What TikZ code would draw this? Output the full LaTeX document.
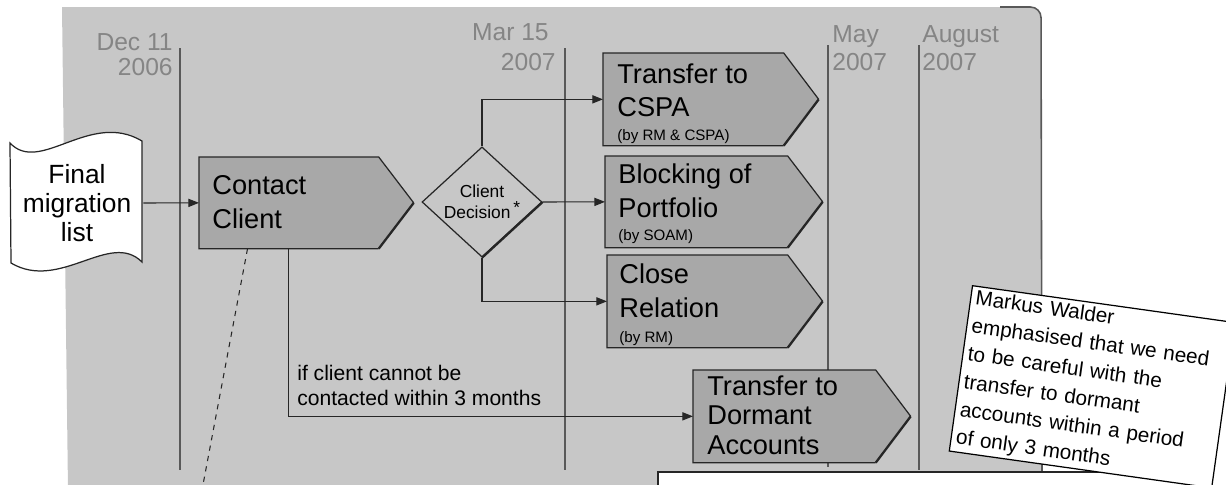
\documentclass[tikz,border=0pt]{standalone}
\usepackage{fontspec}
\setmainfont{Liberation Sans}
\usetikzlibrary{arrows.meta,shapes.geometric,calc}
\definecolor{bggray}{gray}{0.78}
\definecolor{boxgray}{gray}{0.66}
\definecolor{dategray}{gray}{0.52}
\definecolor{linegray}{gray}{0.35}
\tikzset{
  boxline/.style={draw=black!85, line width=0.7pt},
  bigtext/.style={font=\fontsize{15.5}{19.3}\selectfont, align=left, inner sep=0pt, anchor=north west},
  smalltext/.style={font=\fontsize{8.6}{10}\selectfont, inner sep=0pt, anchor=base west},
  datetext/.style={font=\fontsize{14}{16}\selectfont, text=dategray, inner sep=0pt},
  timeline/.style={draw=linegray, line width=0.8pt},
  conn/.style={draw=black!85, line width=0.6pt, -{Triangle[length=6pt,width=4.6pt]}},
  notebox/.style={draw=black, fill=white, line width=0.7pt, font=\fontsize{11.8}{16}\selectfont,
    text width=5.1cm, inner xsep=0.1cm, inner ysep=0.04cm, minimum height=3.34cm, align=left},
}
\newcommand{\procbox}[5]{% name, x, y, w, h
  \node[rectangle, inner sep=0pt, minimum width=#4*0.02cm, minimum height=#5*0.02cm, anchor=north west] (#1) at (#2,#3) {};
  \fill[boxgray] (#1.north west) -- (#1.north east) -- ($(#1.east)+(35,0)$) -- (#1.south east) -- (#1.south west) -- cycle;
  \draw[boxline] (#1.south east) -- (#1.south west) -- (#1.north west) -- (#1.north east) -- ($(#1.east)+(35,0)$);
  \draw[boxline, line width=1.3pt] ($(#1.east)+(35,0)$) -- (#1.south east);
}
\begin{document}
\begin{tikzpicture}[x=0.02cm,y=-0.02cm]
\useasboundingbox (0,0) rectangle (1226,484);
\clip (0,0) rectangle (1226,484);
% background panel
\fill[bggray] (68,490) -- (62,7) [rounded corners=6pt] -- (1041,7) [sharp corners] -- (1042,490) -- cycle;
\draw[linegray, line width=0.9pt] (1000,7) [rounded corners=6pt] -- (1041,7) [sharp corners] -- (1042,490);
% timelines
\draw[timeline] (180,48) -- (180,470);
\draw[timeline] (565,48) -- (565,470);
\draw[timeline] (828,45) -- (828,467);
\draw[timeline] (919,45) -- (919,470);
% dates
\node[datetext, anchor=base east] (d1a) at (173,50) {Dec 11};
\node[datetext, anchor=base east] (d1b) at (173,75) {2006};
\node[datetext, anchor=base east] (d2a) at (549,40) {Mar 15};
\node[datetext, anchor=base east] (d2b) at (556,70) {2007};
\node[datetext, anchor=base west] (d3a) at (832,42) {May};
\node[datetext, anchor=base west] (d3b) at (832,70) {2007};
\node[datetext, anchor=base west] (d4a) at (922,42) {August};
\node[datetext, anchor=base west] (d4b) at (922,70) {2007};
% final migration list (tape)
\filldraw[fill=white, draw=black!85, line width=0.7pt]
  (10,143) .. controls (40,175) and (90,110) .. (142,141) -- (142,262)
  .. controls (110,230) and (60,292) .. (11,263) -- cycle;
\node[inner sep=0pt, minimum width=2.64cm, minimum height=2.4cm, align=center,
  font=\fontsize{15}{16.6}\selectfont] (final) at (77,203) {Final\\migration\\list};
% process boxes
\procbox{contact}{199}{157}{179}{91}
\node[bigtext] (contactt) at (212,175) {Contact\\Client};
\procbox{cspa}{603}{53}{180}{92}
\node[bigtext] (cspat) at (617,63) {Transfer to\\CSPA};
\node[smalltext] (cspab) at (617,140) {(by RM \& CSPA)};
\procbox{block}{605}{156}{182}{91}
\node[bigtext] (blockt) at (618,163) {Blocking of\\Portfolio};
\node[smalltext] (blockb) at (618,240) {(by SOAM)};
\procbox{close}{607}{255}{180}{92}
\node[bigtext] (closet) at (619,263) {Close\\Relation};
\node[smalltext] (closeb) at (619,342) {(by RM)};
\procbox{dormant}{693}{370}{182}{92}
\node[bigtext, font=\fontsize{15.5}{17}\selectfont] (dormantt) at (707,375) {Transfer to\\Dormant\\Accounts};
% decision
\node[diamond, draw=black!85, line width=0.7pt, minimum width=2.4cm, minimum height=2.08cm, inner sep=0pt,
  align=center, font=\fontsize{9.9}{12}\selectfont] (dec) at (482,202) {Client\\Decision\,\raisebox{3pt}{*}};
\draw[black!85, line width=1.3pt] (dec.east) -- (dec.south);
% connectors
\draw[conn] (final.east) -- (contact.west);
\draw[conn] (dec.north) |- (cspa.west);
\draw[conn] (dec.east) -- (block.west);
\draw[conn] (dec.south) |- (close.west);
\draw[conn] (contact.south) |- (dormant.west);
\node[font=\fontsize{12}{14.2}\selectfont, align=left, inner sep=0pt, anchor=north west] (lbl) at (297,365)
  {if client cannot be\\contacted within 3 months};
% dashed line
\coordinate (dashend) at (202,490);
\draw[black!85, line width=0.6pt, dashed] ($(contact.south west)!0.27!(contact.south east)$) -- (dashend);
% white panel at bottom
\fill[white] (658,472) rectangle (1206,490);
\draw[black!85, line width=0.8pt] (658,490) -- (658,472) -- (1206,472) -- (1206,490);
% note
\node[notebox, rotate=-8, anchor=north west] (note) at (972,285)
  {Markus Walder\\emphasised that we need\\to be careful with the\\transfer to dormant\\accounts within a period\\of only 3 months};
\end{tikzpicture}
\end{document}
